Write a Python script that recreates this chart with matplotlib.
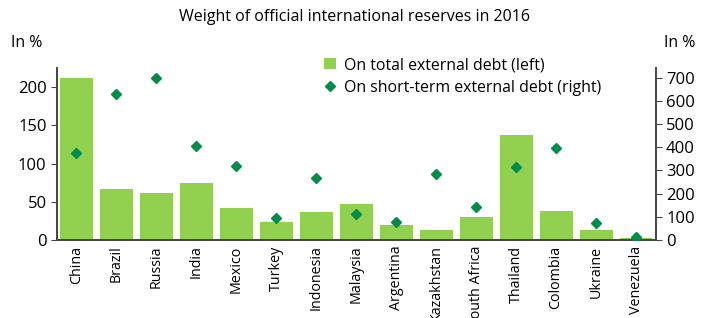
import numpy as np
import matplotlib.pyplot as plt

plt.rcParams['font.family'] = ['Open Sans', 'DejaVu Sans']

countries = ['China', 'Brazil', 'Russia', 'India', 'Mexico', 'Turkey', 'Indonesia',
             'Malaysia', 'Argentina', 'Kazakhstan', 'South Africa', 'Thailand',
             'Colombia', 'Ukraine', 'Venezuela']
total_debt = [212, 67, 61, 74.5, 42, 23.5, 37, 47, 19.5, 13, 30, 137, 38, 13, 2.5]
short_term = [376, 628, 699, 404, 320, 95, 268, 114, 77, 286, 142, 313, 397, 73, 12]

bar_col = '#92D050'
dot_col = '#008C4A'
spine_col = '#444444'

fig = plt.figure(figsize=(7.17, 3.18), dpi=100)
ax = fig.add_axes([0.0795, 0.2453, 0.835, 0.5407])
ax2 = ax.twinx()

x = np.arange(len(countries))
b = ax.bar(x, total_debt, width=0.82, color=bar_col, zorder=2,
           label='On total external debt (left)')
d, = ax2.plot(x, short_term, linestyle='none', marker='D', markersize=5,
              color=dot_col, zorder=3, label='On short-term external debt (right)')

ax.set_xlim(-0.48, 14.49)
ax.set_ylim(0, 225)
ax2.set_ylim(0, 742)
ax.set_yticks([0, 50, 100, 150, 200])
ax2.set_yticks(range(0, 701, 100))
ax.set_xticks(x)
ax.set_xticklabels(countries, rotation=90, fontsize=10.3)

for a in (ax, ax2):
    a.spines['top'].set_visible(False)
    for s in ('left', 'right', 'bottom'):
        a.spines[s].set_color(spine_col)
        a.spines[s].set_linewidth(1.2)
    a.tick_params(axis='y', labelsize=12, color=spine_col, length=4)
ax.tick_params(axis='x', length=0, pad=4)

fig.text(0.495, 0.948, 'Weight of official international reserves in 2016',
         ha='center', va='center', fontsize=11.5)
fig.text(0.016, 0.866, 'In %', ha='left', va='center', fontsize=11.5)
fig.text(0.97, 0.866, 'In %', ha='right', va='center', fontsize=11.5)

ax.legend(handles=[b, d], loc='upper left', bbox_to_anchor=(0.435, 1.1),
          frameon=False, fontsize=11.4, handlelength=0.8, handletextpad=0.5,
          labelspacing=0.4, borderaxespad=0)

fig.savefig('out.png', dpi=100)
